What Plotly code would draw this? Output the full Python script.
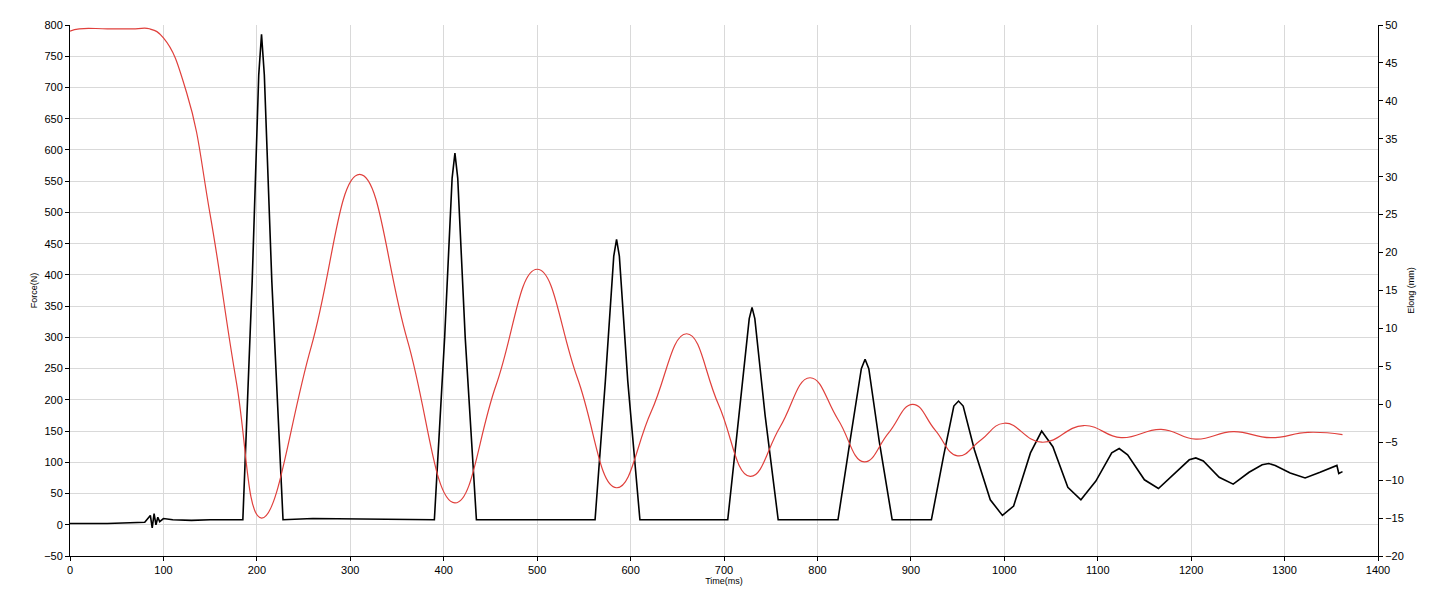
import plotly.graph_objects as go

# Force (black, left axis)
force_t = [0, 40, 80, 86, 88, 90, 92, 94, 96, 100, 110, 130, 150, 185,
           195, 202, 205, 208, 216, 228, 260, 390,
           401, 409, 412, 415, 423, 435, 500, 562,
           573, 582, 585, 588, 597, 610, 660, 704,
           716, 727, 730, 733, 744, 758, 790, 822,
           835, 847, 851, 855, 866, 880, 900, 922,
           935, 946, 951, 956, 968, 985, 998, 1010, 1028, 1040, 1052, 1068, 1082,
           1098, 1115, 1123, 1132, 1150, 1165, 1182, 1198, 1205, 1213, 1230, 1245,
           1262, 1276, 1283, 1290, 1306, 1322, 1338, 1350, 1356, 1358, 1362]
force_n = [2, 2, 4, 15, -5, 18, 0, 12, 5, 10, 8, 7, 8, 8,
           390, 720, 785, 720, 390, 8, 10, 8,
           300, 555, 595, 555, 300, 8, 8, 8,
           230, 430, 457, 430, 230, 8, 8, 8,
           175, 330, 348, 330, 175, 8, 8, 8,
           135, 250, 265, 250, 135, 8, 8, 8,
           110, 190, 198, 190, 120, 40, 15, 30, 115, 150, 125, 60, 40,
           70, 115, 122, 112, 72, 58, 82, 104, 107, 102, 76, 65,
           84, 96, 98, 95, 83, 75, 84, 92, 95, 82, 85]

# Elongation (red, right axis)
elong_t = [0, 10, 40, 70, 85, 100, 125, 150, 178, 205, 258, 310,
           361, 412, 456, 500, 543, 585, 622, 660, 694, 728,
           760, 792, 822, 850, 876, 902, 926, 950, 975, 1000, 1040, 1085, 1125,
           1168, 1205, 1245, 1285, 1325, 1362]
elong_mm = [49.2, 49.5, 49.5, 49.5, 49.5, 48.3, 41, 25, 3, -15, 7.5, 30.3,
            8.5, -13, 2.5, 17.8, 3.5, -11, -1, 9.3, 0, -9.5,
            -3, 3.5, -2, -7.6, -3.8, 0, -3.4, -6.8, -4.7, -2.5, -5, -2.8, -4.4,
            -3.3, -4.6, -3.6, -4.4, -3.7, -4.0]

fig = go.Figure()
fig.add_trace(go.Scatter(x=elong_t, y=elong_mm, mode="lines", yaxis="y2",
                         line=dict(color="#e0403c", width=1.2, shape="spline", smoothing=1.3)))
fig.add_trace(go.Scatter(x=force_t, y=force_n, mode="lines",
                         line=dict(color="black", width=1.6)))

ax = dict(showline=True, linecolor="black", ticks="outside", ticklen=4,
          tickcolor="black", gridcolor="#d9d9d9", zeroline=False, mirror=False,
          automargin=False)
fig.update_layout(
    width=1445, height=608, showlegend=False,
    paper_bgcolor="white", plot_bgcolor="white",
    margin=dict(l=62, r=75, t=17, b=60),
    font=dict(family="Liberation Sans, Arial", size=11, color="black"),
    xaxis=dict(ax, range=[0, 1400], dtick=100,
               title=dict(text="Time(ms)", font=dict(size=9), standoff=2)),
    yaxis=dict(ax, range=[-50, 800], dtick=50,
               title=dict(text="Force(N)", font=dict(size=9), standoff=4)),
    yaxis2=dict(ax, range=[-20, 50], dtick=5, overlaying="y", side="right",
                showgrid=False,
                title=dict(text="Elong (mm)", font=dict(size=9), standoff=4)),
)
fig.write_html("out.html")
